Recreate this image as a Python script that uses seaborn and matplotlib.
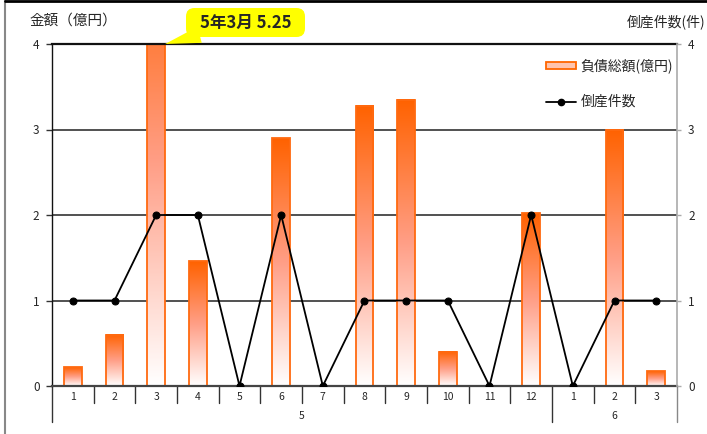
import numpy as np
import pandas as pd
import matplotlib
matplotlib.use("Agg")
import matplotlib.pyplot as plt
import matplotlib.transforms as mtransforms
import seaborn as sns
from matplotlib.colors import LinearSegmentedColormap
from matplotlib.lines import Line2D
from matplotlib.patches import Patch, FancyBboxPatch

# --- data -------------------------------------------------------------
months = ["1", "2", "3", "4", "5", "6", "7", "8", "9", "10", "11", "12", "1", "2", "3"]
years = ["5", "6"]
year_spans = [12, 3]
amounts = [0.22, 0.60, 5.25, 1.46, 0.0, 2.90, 0.0, 3.28, 3.35, 0.40, 0.0, 2.02, 0.0, 3.00, 0.17]
counts = [1, 1, 2, 2, 0, 2, 0, 1, 1, 1, 0, 2, 0, 1, 1]
amount_ticks = [0, 1, 2, 3, 4]
count_ticks = [0, 1, 2, 3, 4]
callout_text = "5年3月 5.25"
callout_index = 2

sns.set_theme(style="white")
plt.rcParams["font.family"] = ["Noto Sans CJK JP", "DejaVu Sans"]

W, H = 707, 434
AX_L, AX_R, AX_T, AX_B = 52, 677, 44, 386
fig = plt.figure(figsize=(W / 100, H / 100), dpi=100)
ax = fig.add_axes([AX_L / W, 1 - AX_B / H, (AX_R - AX_L) / W, (AX_B - AX_T) / H])
ax_h = AX_B - AX_T

df = pd.DataFrame({"pos": np.arange(len(months)), "amount": amounts, "count": counts})
ymax = amount_ticks[-1]

# --- bars with vertical orange-to-white gradient ------------------------
sns.barplot(data=df, x="pos", y="amount", ax=ax, width=0.43, color="#FF6600",
            saturation=1, edgecolor="#FF6A10", linewidth=1.3, zorder=2)
grad_cmap = LinearSegmentedColormap.from_list(
    "bar_grad", [(0.0, "#FFFFFF"), (0.5, "#FF9E86"), (1.0, "#FF6200")])
for p in list(ax.patches):
    h = p.get_height()
    p.set_facecolor("none")
    if h <= 0:
        p.set_linewidth(0)
        continue
    x0, w = p.get_x(), p.get_width()
    top = min(h, ymax)
    # the gradient spans the full bar value; only the visible part is painted
    gradient = np.linspace(0, top / h, 256).reshape(-1, 1)
    ax.imshow(gradient, extent=[x0, x0 + w, 0, top], origin="lower", vmin=0, vmax=1,
              aspect="auto", cmap=grad_cmap, zorder=1.9, interpolation="bilinear")

ax.set_xlim(-0.5, len(months) - 0.5)
ax.set_ylim(0, ymax)
ax.set_aspect("auto")
ax.set_xticks([])
ax.set_xlabel("")
ax.set_ylabel("")
ax.set_yticks(amount_ticks)
ax.set_yticklabels([str(t) for t in amount_ticks], fontsize=8.5)
ax.tick_params(axis="y", left=True, length=4, width=1, color="#333333", pad=5)

for yv in amount_ticks[1:-1]:
    ax.axhline(yv, color="#333333", lw=1.2, zorder=0.5)

for side in ["left", "top", "right", "bottom"]:
    ax.spines[side].set_visible(True)
ax.spines["left"].set_color("#111111")
ax.spines["left"].set_linewidth(1.0)
ax.spines["top"].set_color("#111111")
ax.spines["top"].set_linewidth(1.6)
ax.spines["bottom"].set_color("#444444")
ax.spines["bottom"].set_linewidth(1.6)
ax.spines["right"].set_visible(False)

# --- line of bankruptcy counts on the secondary axis --------------------
ax2 = ax.twinx()
sns.lineplot(data=df, x="pos", y="count", ax=ax2, color="black", marker="o",
             markersize=5, markeredgecolor="black", linewidth=1.3, zorder=5)
ax2.set_xlim(-0.5, len(months) - 0.5)
ax2.set_ylim(0, count_ticks[-1])
ax2.set_yticks(count_ticks)
ax2.set_yticklabels([str(t) for t in count_ticks], fontsize=8.5)
ax2.set_ylabel("")
ax2.tick_params(axis="y", right=True, length=3, width=1, color="#AAAAAA", pad=5)
for side in ["left", "top", "bottom"]:
    ax2.spines[side].set_visible(False)
ax2.spines["right"].set_visible(True)
ax2.spines["right"].set_color("#AAAAAA")
ax2.spines["right"].set_linewidth(1.2)

# --- two-level category axis: months and years --------------------------
trans = mtransforms.blended_transform_factory(ax.transData, ax.transAxes)
year_edges = np.cumsum([0] + year_spans)
for i in range(len(months) + 1):
    long_tick = i in year_edges
    bottom = -(422 - AX_B) / ax_h if long_tick else -(403 - AX_B) / ax_h
    color = "#888888" if i == len(months) else "#333333"
    ax.add_line(Line2D([i - 0.5, i - 0.5], [0, bottom], transform=trans,
                       color=color, lw=1.0, clip_on=False))
for i, m in enumerate(months):
    ax.text(i, -(397 - AX_B) / ax_h, m, transform=trans, ha="center", va="center",
            fontsize=7.5)
for k, yr in enumerate(years):
    center = (year_edges[k] + year_edges[k + 1]) / 2 - 0.5
    ax.text(center, -(416 - AX_B) / ax_h, yr, transform=trans, ha="center", va="center",
            fontsize=7.5)

# --- axis titles --------------------------------------------------------
fig.text(30 / W, 1 - 21 / H, "金額（億円）", ha="left", va="center", fontsize=10.5)
fig.text(705 / W, 1 - 22 / H, "倒産件数(件)", ha="right", va="center", fontsize=10)

# --- legend -------------------------------------------------------------
handles = [
    Patch(facecolor="#FFC4AE", edgecolor="#FF6600", linewidth=1.3, label="負債総額(億円)"),
    Line2D([], [], color="black", marker="o", markersize=4.5, linewidth=1.3, label="倒産件数"),
]
ax2.legend(handles=handles, loc="upper left",
           bbox_to_anchor=((540 - AX_L) / (AX_R - AX_L), (AX_B - 53) / ax_h),
           borderaxespad=0, frameon=False, fontsize=10, handlelength=2.2,
           handleheight=0.35, labelspacing=1.55, handletextpad=0.3)

# --- callout for the clipped bar ----------------------------------------
box_x0, box_y0, box_w, box_h = 186, H - 37, 119, 29
callout_box = FancyBboxPatch((box_x0 / W, box_y0 / H), box_w / W, box_h / H,
                             boxstyle="round,pad=0,rounding_size=0.012",
                             transform=fig.transFigure, fc="#FFFF00", ec="none",
                             mutation_aspect=W / H, zorder=9, clip_on=False)
ax2.add_artist(callout_box)
ax2.annotate(callout_text, xy=(callout_index + 0.215, ymax * count_ticks[-1] / ymax),
             xycoords="data",
             xytext=(box_x0 + box_w / 2, box_y0 + box_h / 2), textcoords="figure pixels",
             ha="center", va="center", fontsize=12, fontweight="bold",
             arrowprops=dict(arrowstyle="wedge,tail_width=1.0", fc="#FFFF00", ec="none",
                             shrinkA=0, shrinkB=0),
             annotation_clip=False, zorder=10)

# --- outer frame --------------------------------------------------------
fig.add_artist(Line2D([5 / W, 5 / W], [0, 1], transform=fig.transFigure, color="#888888", lw=1.5))
fig.add_artist(Line2D([5 / W, 1], [1 - 0.8 / H, 1 - 0.8 / H], transform=fig.transFigure,
                      color="black", lw=2))

fig.savefig("out.png", dpi=100)
